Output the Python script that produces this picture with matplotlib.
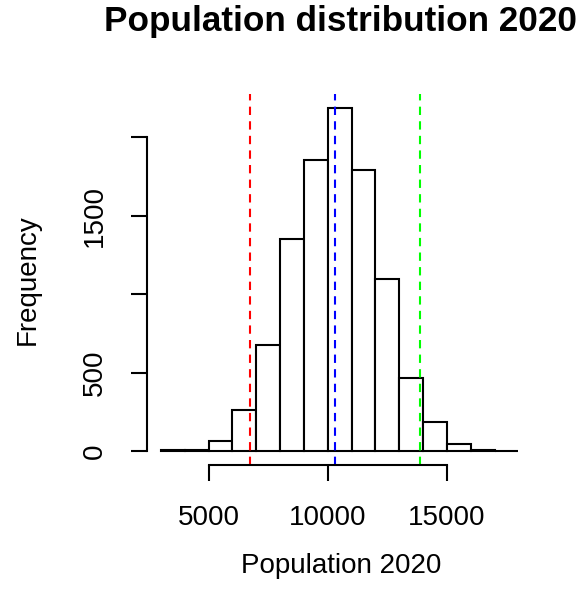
import matplotlib
matplotlib.use("Agg")
import matplotlib.pyplot as plt
import numpy as np

plt.rcParams['font.family'] = ['Liberation Sans', 'DejaVu Sans']

# histogram data (bins of 1000)
bin_edges = [3000, 4000, 5000, 6000, 7000, 8000, 9000, 10000, 11000,
             12000, 13000, 14000, 15000, 16000, 17000, 18000]
counts = [6, 7, 68, 265, 674, 1351, 1851, 2186, 1791, 1095, 465, 184, 49, 6, 0]

# reference lines
q_low = 6750
mean_val = 10300
q_high = 13870

x_ticks = [5000, 10000, 15000]
y_ticks = [0, 500, 1000, 1500, 2000]
y_labels = ['0', '500', '', '1500', '']

W, H = 578, 605
fig = plt.figure(figsize=(W / 100, H / 100), dpi=100)

def px(x, y):
    return x / W, 1 - y / H

l, r, t, b = 146.7, 532.7, 94, 465
ax = fig.add_axes([l / W, 1 - b / H, (r - l) / W, (b - t) / H])

widths = np.diff(bin_edges)
ax.bar(bin_edges[:-1], counts, width=widths, align='edge',
       facecolor='white', edgecolor='black', linewidth=1.5)

dash = (0, (4, 3))
ax.axvline(q_low, color='#FF0000', linestyle=dash, linewidth=1.5)
ax.axvline(mean_val, color='#0000FF', linestyle=dash, linewidth=1.5)
ax.axvline(q_high, color='#00FF00', linestyle=dash, linewidth=1.5)

ax.set_xlim(2400, 18600)
ax.set_ylim(-87, 2273)

for s in ['top', 'right']:
    ax.spines[s].set_visible(False)
ax.spines['left'].set_bounds(0, 2000)
ax.spines['bottom'].set_bounds(5000, 15000)
ax.spines['left'].set_linewidth(1.5)
ax.spines['bottom'].set_linewidth(1.5)

ax.set_xticks(x_ticks)
ax.set_xticklabels([str(v) for v in x_ticks])
ax.set_yticks(y_ticks)
ax.set_yticklabels(y_labels, rotation=90, va='center')
ax.tick_params(axis='both', length=11.8, width=1.5, labelsize=20)
ax.tick_params(axis='x', pad=17)
ax.tick_params(axis='y', pad=16)

fig.text(*px(341, 31), 'Population distribution 2020', fontsize=25.3,
         fontweight='bold', ha='center', va='baseline')
fig.text(*px(341, 573), 'Population 2020', fontsize=20, ha='center', va='baseline')
fig.text(*px(35, 280), 'Frequency', fontsize=20, rotation=90,
         ha='center', va='baseline', rotation_mode='anchor')

fig.savefig('out.png', dpi=100)
